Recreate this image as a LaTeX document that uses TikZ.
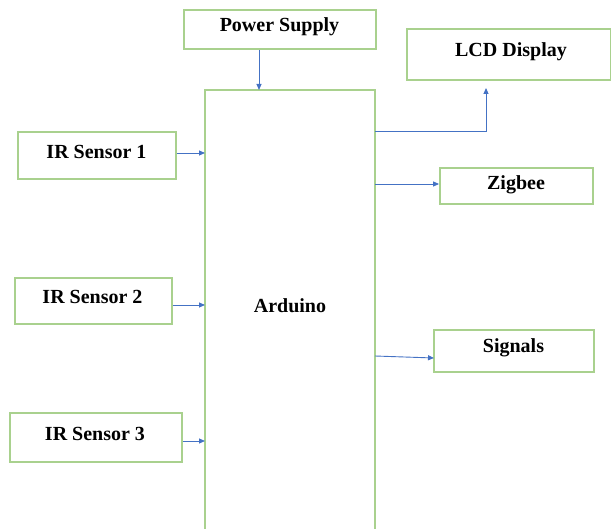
\documentclass[tikz,border=0pt]{standalone}
\usepackage{fontspec}
\setmainfont{Liberation Serif}
\usetikzlibrary{arrows.meta}
\definecolor{boxgreen}{HTML}{A9D18E}
\definecolor{arrowblue}{HTML}{4472C4}
\begin{document}
\begin{tikzpicture}[x=1pt,y=-1pt,
  blockbox/.style={draw=boxgreen,line width=1.8pt,fill=white,inner sep=0pt},
  lbl/.style={font=\fontsize{20}{24}\selectfont\bfseries,anchor=base,inner sep=0pt},
  conn/.style={draw=arrowblue,line width=0.9pt,-{Triangle[length=6pt,width=5pt]}}]
\useasboundingbox (0,0) rectangle (611,529);
% boxes
\node[blockbox,minimum width=192pt,minimum height=39pt] (ps) at (280,29.5) {};
\node[lbl] at (279.5,32) {Power Supply};
\node[blockbox,minimum width=204pt,minimum height=51pt] (lcd) at (509,54.5) {};
\node[lbl] at (511,57) {LCD Display};
\node[blockbox,minimum width=153pt,minimum height=36pt] (zig) at (516.5,186) {};
\node[lbl] at (516,190) {Zigbee};
\node[blockbox,minimum width=160pt,minimum height=42pt] (sig) at (514,351) {};
\node[lbl] at (513.5,353) {Signals};
\node[blockbox,minimum width=158pt,minimum height=47pt] (ir1) at (97,155.5) {};
\node[lbl] at (96.5,159) {IR Sensor 1};
\node[blockbox,minimum width=157pt,minimum height=46pt] (ir2) at (93.5,301) {};
\node[lbl] at (92.5,304) {IR Sensor 2};
\node[blockbox,minimum width=172pt,minimum height=49pt] (ir3) at (96,437.5) {};
\node[lbl] at (95,441) {IR Sensor 3};
% Arduino (open at bottom)
\coordinate (ardTL) at (205,90);
\coordinate (ardTR) at (375,90);
\coordinate (ardBL) at (205,532);
\coordinate (ardBR) at (375,532);
\draw[draw=boxgreen,line width=1.8pt] (ardBL) -- (ardTL) -- (ardTR) -- (ardBR);
\node[lbl] (ard) at (290,312.5) {Arduino};
% connectors
\coordinate (psin) at (259,90);
\draw[conn] (ps.south -| psin) -- (psin);
\coordinate (ir1in) at (205,153);
\draw[conn] (ir1.east |- ir1in) -- (ir1in);
\coordinate (ir2in) at (205,305);
\draw[conn] (ir2.east |- ir2in) -- (ir2in);
\coordinate (ir3in) at (205,441);
\draw[conn] (ir3.east |- ir3in) -- (ir3in);
\coordinate (lcdout) at (375,131);
\coordinate (lcdup) at (486,88);
\draw[conn] (lcdout) -- (lcdout -| lcdup) -- (lcdup);
\coordinate (zigout) at (375,184);
\draw[conn] (zigout) -- (zig.west |- zigout);
\coordinate (sigout) at (375,356);
\coordinate (sigin) at (434,358);
\draw[conn] (sigout) -- (sigin);
\end{tikzpicture}
\end{document}
